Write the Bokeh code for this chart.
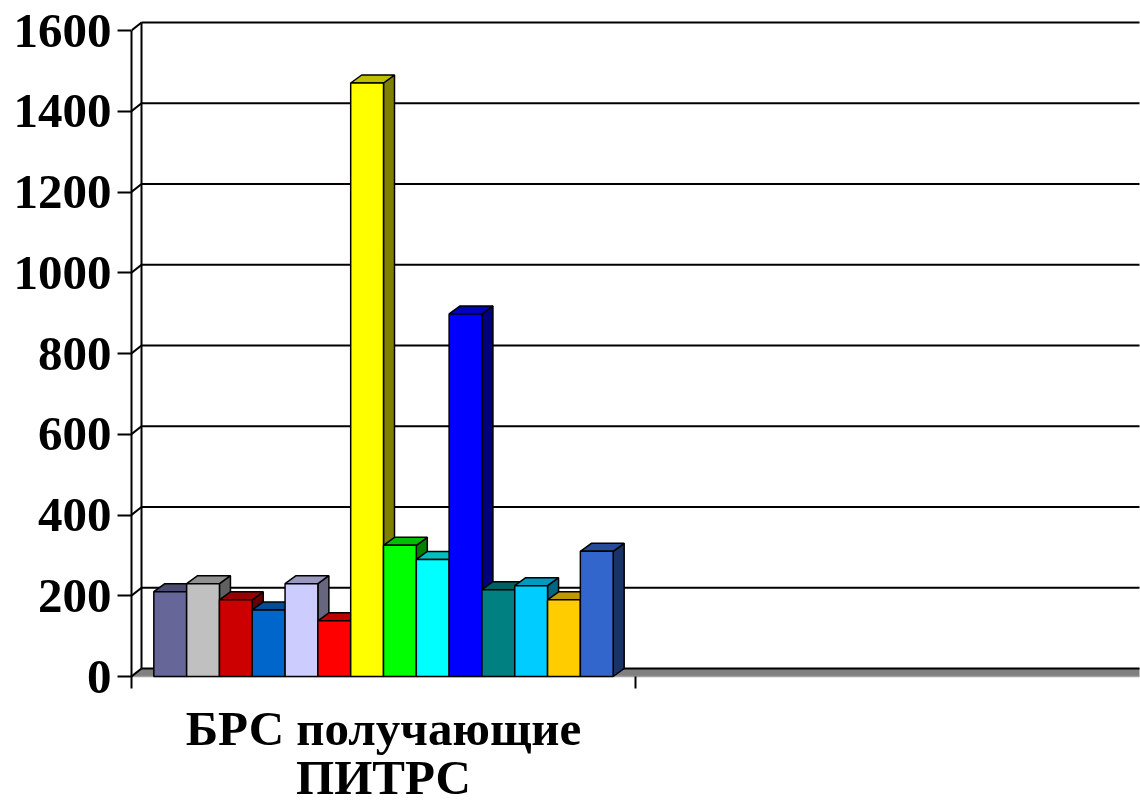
from bokeh.plotting import figure
from bokeh.models import Range1d, FixedTicker
from bokeh.core.properties import value
from bokeh.embed import file_html
from bokeh.resources import INLINE

# ---- data ----
category_lines = ["БРС получающие", "ПИТРС"]
n_categories = 2
values = [210, 230, 190, 165, 230, 138, 1470, 325, 290, 898, 215, 225, 190, 310]
colors = ["#666699", "#C0C0C0", "#CC0000", "#0066CC", "#CCCCFF", "#FF0000", "#FFFF00",
          "#00FF00", "#00FFFF", "#0000FF", "#008080", "#00CCFF", "#FFCC00", "#3366CC"]
y_ticks = [0, 200, 400, 600, 800, 1000, 1200, 1400, 1600]

# ---- geometry (pixels -> data units) ----
W, H = 1140, 808
LEFT = 131
ZERO_PX = 676            # canvas y of value 0
cat_px = 504.0
px_per_unit = 646.0 / 1600.0
frame_w = W - LEFT
x_end = frame_w / cat_px
y_start = -(H - ZERO_PX) / px_per_unit
y_end = ZERO_PX / px_per_unit

dxw, dyw = 10 / cat_px, 8 / px_per_unit       # wall depth
dxb, dyb = 11 / cat_px, 8 / px_per_unit       # bar depth
gap = 0.0443
bw = (1 - 2 * gap) / len(values)
tick_len = 12 / px_per_unit


def shade(hx, f):
    r, g, b = int(hx[1:3], 16), int(hx[3:5], 16), int(hx[5:7], 16)
    return "#%02X%02X%02X" % (int(r * f), int(g * f), int(b * f))


p = figure(width=W, height=H, output_backend="svg", toolbar_location=None,
           x_range=Range1d(0, x_end), y_range=Range1d(y_start, y_end),
           min_border_left=LEFT, min_border_right=0, min_border_top=0,
           min_border_bottom=0, x_axis_location=None)
p.outline_line_color = None
p.grid.visible = False
p.background_fill_color = "white"
p.border_fill_color = "white"

# floor
p.patch([0, dxw, n_categories, n_categories], [0, dyw, dyw, 0],
        fill_color="#808080", line_color=None)
# floor front edge (category axis line)
p.segment(x0=[0], y0=[0], x1=[n_categories], y1=[0], line_color="#A0A0A0", line_width=1.5)

# back wall gridlines
nt = len(y_ticks)
p.segment(x0=[dxw] * nt, y0=[v + dyw for v in y_ticks],
          x1=[n_categories] * nt, y1=[v + dyw for v in y_ticks],
          line_color="black", line_width=2)
# side wall lines
p.segment(x0=[0] * nt, y0=y_ticks, x1=[dxw] * nt, y1=[v + dyw for v in y_ticks],
          line_color="black", line_width=2)
p.segment(x0=[dxw], y0=[dyw], x1=[dxw], y1=[y_ticks[-1] + dyw],
          line_color="black", line_width=2)

# category tick marks (between categories)
cat_ticks = list(range(1, n_categories))
p.segment(x0=cat_ticks, y0=[0] * len(cat_ticks), x1=cat_ticks,
          y1=[-tick_len] * len(cat_ticks), line_color="black", line_width=2)

# bars
centers = [gap + bw * (i + 0.5) for i in range(len(values))]
side_xs, side_ys, top_xs, top_ys = [], [], [], []
for c, h in zip(centers, values):
    xl, xr = c - bw / 2, c + bw / 2
    side_xs.append([xr, xr, xr + dxb, xr + dxb])
    side_ys.append([0, h, h + dyb, dyb])
    top_xs.append([xl, xr, xr + dxb, xl + dxb])
    top_ys.append([h, h, h + dyb, h + dyb])

p.patches(side_xs, side_ys, fill_color=[shade(c, 0.5) for c in colors],
          line_color="black", line_width=1.5)
p.patches(top_xs, top_ys, fill_color=[shade(c, 0.75) for c in colors],
          line_color="black", line_width=1.5)
p.vbar(x=centers, width=bw, top=values, bottom=0, fill_color=colors,
       line_color="black", line_width=1.5)

# category label
line_px = [52, 101]
p.text(x=[0.5] * len(category_lines), y=[-d / px_per_unit for d in line_px],
       text=category_lines, text_align="center", text_baseline="alphabetic",
       text_font=value("Liberation Serif"), text_font_style="bold",
       text_font_size="49px", text_color="black")

# value axis
ya = p.yaxis[0]
ya.ticker = FixedTicker(ticks=y_ticks)
ya.bounds = (-tick_len, 1600)
ya.major_label_text_font = "Liberation Serif"
ya.major_label_text_font_style = "bold"
ya.major_label_text_font_size = "49px"
ya.major_label_text_color = "black"
ya.major_label_standoff = 6
ya.major_tick_out = 14
ya.major_tick_in = 0
ya.minor_tick_line_color = None
ya.major_tick_line_width = 2
ya.axis_line_width = 2
ya.axis_line_color = "black"

open("out.html", "w").write(file_html(p, INLINE))
